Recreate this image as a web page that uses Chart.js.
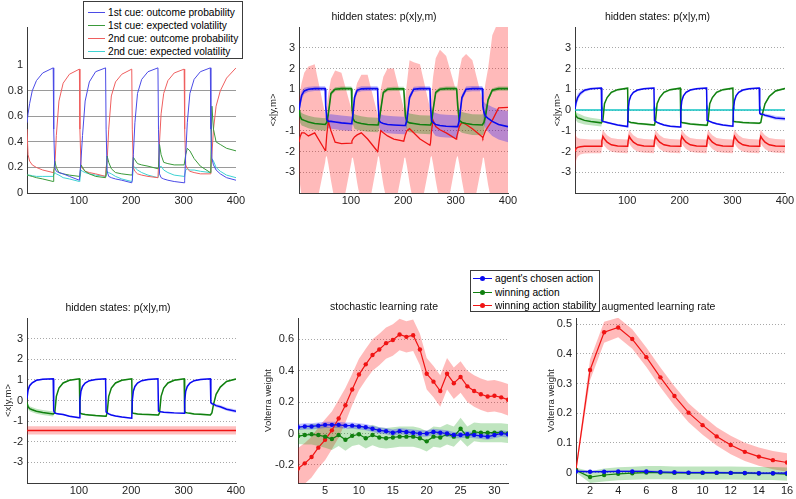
<!DOCTYPE html>
<html>
<head>
<meta charset="utf-8">
<title>hidden states</title>
<script src="https://cdn.jsdelivr.net/npm/chart.js@4.4.1/dist/chart.umd.min.js"></script>
<style>
  body { margin: 0; background: #fff; }
  #page { position: relative; width: 796px; height: 499px; overflow: hidden; background: #fff; }
  #page canvas { position: absolute; }
  .legend { position: absolute; background: #fff; border: 1px solid #3c3c3c; box-sizing: border-box;
            font: 10.2px "Liberation Sans", Arial, sans-serif; color: #000; }
  .lrow { position: relative; height: 13px; line-height: 13px; white-space: nowrap; padding-left: 24px; }
  #leg2 .lrow { height: 13.5px; line-height: 13.5px; }
  .ls { position: absolute; top: 6px; border-top: 1px solid; }
  .ls i { position: absolute; left: 50%; top: -3px; width: 5px; height: 5px; margin-left: -2.5px; border-radius: 50%; }
</style>
</head>
<body>
<div id="page">
  <canvas id="c1" width="260" height="215" style="left:0;top:0"></canvas>
  <canvas id="c2" width="270" height="215" style="left:260px;top:0"></canvas>
  <canvas id="c3" width="266" height="215" style="left:530px;top:0"></canvas>
  <canvas id="c4" width="260" height="207" style="left:0;top:292px"></canvas>
  <canvas id="c5" width="270" height="207" style="left:260px;top:292px"></canvas>
  <canvas id="c6" width="266" height="207" style="left:530px;top:292px"></canvas>
  <div class="legend" id="leg1" style="left:83px;top:1px;width:160px;height:58px;padding-top:4px"></div>
  <div class="legend" id="leg2" style="left:470px;top:270px;width:130px;height:42px;padding-top:1px"></div>
</div>
<script>
// ---- data -------------------------------------------------------------
// trial positions sampled along each 50-trial block (panels 1-4)
const trials = [1,3,6,11,19,31,51, 52,54,57,62,70,82,101, 102,104,107,112,120,132,151,
                152,154,157,162,170,182,201, 202,204,207,212,220,232,251, 252,254,257,262,270,282,301,
                302,304,307,312,320,332,351, 352,354,357,362,370,382,400];

// panel 1: cue probabilities / volatilities
const p1Prob1 = [0.55,0.62,0.70,0.80,0.88,0.94,0.98, 0.50,0.20,0.17,0.16,0.15,0.13,0.10,
                 0.10,0.25,0.45,0.72,0.87,0.95,0.98, 0.50,0.17,0.13,0.12,0.11,0.10,0.08,
                 0.10,0.30,0.55,0.78,0.89,0.95,0.98, 0.50,0.15,0.12,0.11,0.10,0.09,0.08,
                 0.10,0.30,0.55,0.78,0.89,0.95,0.98, 0.50,0.27,0.22,0.18,0.15,0.12,0.10];
const p1Vol1  = [0.14,0.14,0.135,0.13,0.12,0.11,0.09, 0.15,0.25,0.20,0.16,0.15,0.14,0.13,
                 0.14,0.22,0.20,0.17,0.15,0.13,0.12, 0.15,0.29,0.24,0.19,0.16,0.15,0.14,
                 0.15,0.28,0.26,0.23,0.22,0.21,0.19, 0.20,0.38,0.30,0.24,0.23,0.22,0.22,
                 0.22,0.30,0.35,0.33,0.27,0.21,0.16, 0.25,0.68,0.50,0.40,0.38,0.35,0.33];
const p1Prob2 = [0.50,0.30,0.25,0.22,0.20,0.18,0.16, 0.18,0.20,0.45,0.72,0.86,0.93,0.97,
                 0.50,0.22,0.19,0.17,0.16,0.15,0.13, 0.20,0.25,0.50,0.76,0.87,0.93,0.97,
                 0.50,0.20,0.17,0.15,0.14,0.13,0.12, 0.20,0.40,0.62,0.78,0.88,0.94,0.97,
                 0.50,0.22,0.19,0.17,0.16,0.15,0.15, 0.20,0.30,0.50,0.68,0.80,0.90,0.98];
const p1Vol2  = [0.14,0.14,0.14,0.135,0.13,0.13,0.13, 0.13,0.16,0.15,0.14,0.12,0.11,0.09,
                 0.10,0.18,0.17,0.16,0.15,0.14,0.13, 0.13,0.17,0.16,0.15,0.13,0.11,0.09,
                 0.10,0.21,0.20,0.18,0.16,0.14,0.12, 0.13,0.20,0.21,0.18,0.16,0.14,0.13,
                 0.14,0.18,0.19,0.18,0.18,0.17,0.16, 0.18,0.27,0.25,0.20,0.17,0.14,0.12];
const p1Labels = ['1st cue: outcome probability', '1st cue: expected volatility',
                  '2nd cue: outcome probability', '2nd cue: expected volatility'];

// panel 2: hidden states (noisy model)
const p2Blue = [0.0,0.3,0.7,0.92,1.0,1.03,1.03, 0.2,-0.45,-0.55,-0.55,-0.58,-0.62,-0.66,
                -0.6,-0.2,0.6,0.95,1.02,1.03,1.03, 0.3,-0.5,-0.6,-0.65,-0.7,-0.72,-0.75,
                -0.75,-0.75,-0.5,0.6,1.0,1.03,1.03, 0.2,-0.5,-0.6,-0.7,-0.75,-0.78,-0.8,
                -0.8,-0.8,-0.5,0.6,1.0,1.03,1.03, 0.2,-0.1,-0.3,-0.4,-0.55,-0.7,-0.8];
const p2BlueSd = [0.3,0.25,0.2,0.15,0.12,0.12,0.12, 0.2,0.3,0.33,0.35,0.35,0.35,0.35,
                  0.35,0.3,0.2,0.12,0.12,0.12,0.12, 0.2,0.35,0.4,0.4,0.42,0.42,0.42,
                  0.42,0.42,0.3,0.15,0.12,0.12,0.12, 0.2,0.45,0.5,0.55,0.55,0.55,0.55,
                  0.55,0.55,0.35,0.15,0.13,0.13,0.13, 0.2,0.5,0.6,0.65,0.7,0.72,0.75];
const p2Green = [0.1,-0.3,-0.45,-0.5,-0.58,-0.65,-0.7, -0.7,-0.6,-0.2,0.8,1.0,1.03,1.03,
                 0.2,-0.4,-0.55,-0.6,-0.65,-0.7,-0.72, -0.72,-0.5,0.0,0.85,1.0,1.02,1.02,
                 0.6,-0.3,-0.55,-0.62,-0.65,-0.7,-0.72, -0.72,-0.6,0.0,0.85,1.0,1.03,1.03,
                 1.0,0.2,-0.5,-0.6,-0.65,-0.7,-0.72, -0.72,-0.6,-0.3,0.5,0.95,1.03,1.03];
const p2GreenSd = [0.3,0.3,0.3,0.3,0.3,0.3,0.3, 0.3,0.3,0.2,0.1,0.1,0.1,0.1,
                   0.2,0.3,0.35,0.35,0.35,0.35,0.35, 0.35,0.35,0.2,0.1,0.1,0.1,0.1,
                   0.2,0.4,0.45,0.45,0.45,0.45,0.45, 0.45,0.45,0.2,0.1,0.1,0.1,0.1,
                   0.2,0.4,0.5,0.5,0.5,0.5,0.5, 0.5,0.5,0.3,0.12,0.1,0.1,0.1];
const p2Red = [-1.55,-1.3,-1.1,-1.1,-1.25,-1.1,-1.95, -1.9,-1.2,-0.55,-1.0,-1.55,-1.62,-1.6,
               -1.5,-1.4,-1.3,-1.2,-1.1,-1.4,-2.0, -1.9,-1.5,-1.0,-1.1,-1.25,-1.4,-1.5,
               -1.4,-1.2,-1.0,-0.9,-1.1,-1.4,-1.7, -1.6,-1.0,-0.5,-0.8,-0.95,-1.1,-1.4,
               -1.3,-1.1,-0.8,-0.6,-0.7,-0.9,-1.3, -1.35,-1.2,-1.0,-0.8,-0.5,0.1,0.13];
const p2RedHi = [0.5,0.9,1.3,1.8,2.1,2.2,-0.2, -0.3,0.2,0.8,1.5,1.9,1.8,0.05,
                 0.0,0.3,0.8,1.3,1.7,1.7,-0.2, -0.2,0.3,1.0,1.6,2.0,2.0,0.1,
                 0.1,0.6,1.3,2.4,2.3,2.2,0.1, 0.1,0.8,1.6,2.5,2.9,2.6,0.9,
                 0.85,1.3,1.9,2.5,2.7,2.4,0.5, 0.5,0.8,1.3,2.0,3.6,4.3,4.5];
const p2RedLo = [-3.0,-3.6,-4.2,-5,-5,-5,-2.5, -2.3,-2.2,-2.6,-3.4,-4.5,-5,-2.5,
                 -2.3,-2.3,-2.7,-3.5,-4.6,-5,-2.4, -2.2,-2.3,-2.8,-3.6,-4.6,-5,-2.5,
                 -2.3,-2.3,-2.7,-3.5,-4.6,-5,-2.5, -2.3,-2.2,-2.6,-3.4,-4.5,-5,-2.4,
                 -2.3,-2.2,-2.6,-3.4,-4.5,-5,-2.5, -2.3,-2.3,-2.8,-3.6,-4.6,-5,-5];

// panel 3: hidden states (second model)
const p3Blue = [0.05,0.35,0.6,0.8,0.95,1.02,1.06, -0.5,-0.55,-0.57,-0.6,-0.65,-0.72,-0.8,
                0.0,0.45,0.68,0.85,0.96,1.02,1.06, -0.5,-0.55,-0.6,-0.65,-0.72,-0.78,-0.82,
                0.0,0.45,0.68,0.85,0.96,1.02,1.06, -0.5,-0.52,-0.55,-0.6,-0.66,-0.72,-0.78,
                0.0,0.45,0.68,0.85,0.96,1.02,1.06, -0.15,-0.2,-0.2,-0.25,-0.3,-0.38,-0.42];
const p3BlueSd = [0.3,0.25,0.2,0.12,0.08,0.06,0.05, 0.05,0.05,0.05,0.05,0.05,0.05,0.05,
                  0.05,0.05,0.05,0.05,0.05,0.05,0.05, 0.05,0.05,0.05,0.05,0.05,0.05,0.05,
                  0.05,0.05,0.05,0.05,0.05,0.05,0.05, 0.05,0.05,0.05,0.05,0.05,0.05,0.05,
                  0.05,0.05,0.05,0.05,0.05,0.05,0.05, 0.08,0.08,0.08,0.08,0.09,0.1,0.1];
const p3Green = [-0.1,-0.3,-0.38,-0.42,-0.5,-0.55,-0.62, -0.62,-0.5,0.3,0.6,0.85,0.98,1.05,
                 -0.55,-0.57,-0.6,-0.62,-0.65,-0.68,-0.72, -0.72,-0.5,0.3,0.6,0.85,0.98,1.05,
                 -0.58,-0.6,-0.62,-0.64,-0.67,-0.7,-0.74, -0.74,-0.5,0.3,0.6,0.85,0.98,1.05,
                 -0.55,-0.56,-0.57,-0.58,-0.6,-0.62,-0.64, -0.64,-0.6,-0.2,0.3,0.65,0.92,1.04];
const p3GreenSd = [0.15,0.2,0.22,0.22,0.2,0.18,0.18, 0.05,0.05,0.05,0.05,0.05,0.05,0.05,
                   0.05,0.05,0.05,0.05,0.05,0.05,0.05, 0.05,0.05,0.05,0.05,0.05,0.05,0.05,
                   0.05,0.05,0.05,0.05,0.05,0.05,0.05, 0.05,0.05,0.05,0.05,0.05,0.05,0.05,
                   0.05,0.05,0.05,0.05,0.05,0.05,0.05, 0.05,0.05,0.05,0.05,0.05,0.05,0.05];
const p3Red = [-2.0,-1.85,-1.8,-1.77,-1.75,-1.75,-1.75, -1.5,-1.27,-1.4,-1.55,-1.68,-1.73,-1.75,
               -1.5,-1.27,-1.4,-1.55,-1.68,-1.73,-1.75, -1.5,-1.27,-1.4,-1.55,-1.68,-1.73,-1.75,
               -1.5,-1.27,-1.4,-1.55,-1.68,-1.73,-1.75, -1.5,-1.27,-1.4,-1.55,-1.68,-1.73,-1.75,
               -1.5,-1.27,-1.4,-1.55,-1.68,-1.73,-1.75, -1.5,-1.27,-1.4,-1.55,-1.68,-1.73,-1.75];
const p3RedSd = [1.0,0.6,0.45,0.38,0.35,0.33,0.33, 0.33,0.33,0.33,0.33,0.33,0.33,0.33,
                 0.33,0.33,0.33,0.33,0.33,0.33,0.33, 0.33,0.33,0.33,0.33,0.33,0.33,0.33,
                 0.33,0.33,0.33,0.33,0.33,0.33,0.33, 0.33,0.33,0.33,0.33,0.33,0.33,0.33,
                 0.33,0.33,0.33,0.33,0.33,0.33,0.33, 0.33,0.33,0.33,0.33,0.33,0.33,0.33];
const p3Cyan = [0,0,0,0,0,0,0, 0.15,0,0,0,0,0,0, 0.15,0,0,0,0,0,0, 0.15,0,0,0,0,0,0,
                0.15,0,0,0,0,0,0, 0.15,0,0,0,0,0,0, 0.15,0,0,0,0,0,0, 0.15,0,0,0,0,0,0];

// panel 4: hidden states (fixed volatility)
const p4Blue = [0.1,0.5,0.72,0.86,0.98,1.03,1.05, -0.5,-0.6,-0.63,-0.65,-0.68,-0.76,-0.84,
                0.0,0.45,0.68,0.85,0.96,1.02,1.05, -0.55,-0.6,-0.65,-0.7,-0.75,-0.8,-0.86,
                0.0,0.45,0.68,0.85,0.96,1.02,1.05, -0.5,-0.53,-0.55,-0.57,-0.58,-0.6,-0.62,
                0.0,0.45,0.68,0.85,0.96,1.02,1.05, -0.1,-0.15,-0.18,-0.25,-0.3,-0.42,-0.52];
const p4BlueSd = [0.2,0.12,0.08,0.05,0.04,0.04,0.04, 0.04,0.04,0.04,0.04,0.04,0.04,0.04,
                  0.04,0.04,0.04,0.04,0.04,0.04,0.04, 0.04,0.04,0.04,0.04,0.04,0.04,0.04,
                  0.04,0.04,0.04,0.04,0.04,0.04,0.04, 0.04,0.04,0.04,0.04,0.04,0.04,0.04,
                  0.04,0.04,0.04,0.04,0.04,0.04,0.04, 0.06,0.07,0.07,0.08,0.08,0.08,0.08];
const p4Green = [-0.1,-0.3,-0.4,-0.45,-0.52,-0.58,-0.65, -0.65,-0.6,0.2,0.6,0.85,0.98,1.05,
                 -0.6,-0.63,-0.65,-0.68,-0.7,-0.73,-0.76, -0.76,-0.6,0.2,0.6,0.85,0.98,1.05,
                 -0.6,-0.62,-0.63,-0.65,-0.67,-0.68,-0.7, -0.7,-0.6,0.2,0.6,0.85,0.98,1.05,
                 -0.55,-0.58,-0.6,-0.62,-0.65,-0.67,-0.7, -0.7,-0.6,-0.2,0.3,0.65,0.92,1.04];
const p4GreenSd = [0.1,0.12,0.12,0.12,0.12,0.12,0.12, 0.04,0.04,0.04,0.04,0.04,0.04,0.04,
                   0.04,0.04,0.04,0.04,0.04,0.04,0.04, 0.04,0.04,0.04,0.04,0.04,0.04,0.04,
                   0.04,0.04,0.04,0.04,0.04,0.04,0.04, 0.04,0.04,0.04,0.04,0.04,0.04,0.04,
                   0.04,0.04,0.04,0.04,0.04,0.04,0.04, 0.04,0.04,0.04,0.04,0.04,0.04,0.04];
const p4RedTrials = [1, 400];
const p4Red = [-1.45, -1.45];
const p4RedSd = [0.2, 0.2];

// panel 5: stochastic learning rate (Volterra kernels, lags 1..32)
const lags5 = [1,2,3,4,5,6,7,8,9,10,11,12,13,14,15,16,17,18,19,20,21,22,23,24,25,26,27,28,29,30,31,32];
const p5Agent = [0.04,0.045,0.045,0.05,0.055,0.055,0.055,0.05,0.05,0.045,0.04,0.03,0.02,0.015,0.005,0.015,
                 0.01,0.005,0.0,0.0,0.01,0.005,0.0,-0.01,-0.01,-0.005,-0.01,-0.015,-0.02,-0.01,0.0,-0.005];
const p5AgentSd = [0.02,0.02,0.02,0.02,0.02,0.02,0.02,0.02,0.02,0.02,0.02,0.02,0.02,0.02,0.02,0.02,
                   0.02,0.02,0.02,0.02,0.02,0.02,0.02,0.02,0.02,0.02,0.02,0.02,0.02,0.02,0.02,0.02];
const p5Win = [-0.017,-0.01,-0.005,-0.01,-0.02,-0.035,-0.01,-0.04,-0.015,-0.005,-0.03,-0.01,-0.025,-0.03,-0.025,-0.02,
               -0.02,-0.02,-0.03,-0.05,-0.02,-0.025,-0.005,-0.02,0.03,-0.02,0.01,0.005,0.005,0.005,0.005,0.0];
const p5WinSd = [0.05,0.06,0.065,0.07,0.07,0.07,0.07,0.07,0.065,0.065,0.065,0.065,0.065,0.065,0.065,0.065,
                 0.065,0.065,0.065,0.065,0.065,0.065,0.065,0.065,0.07,0.065,0.06,0.06,0.06,0.06,0.06,0.06];
const p5Stab = [-0.223,-0.19,-0.15,-0.09,-0.04,0.02,0.095,0.18,0.28,0.375,0.44,0.5,0.535,0.575,0.595,0.63,
                0.615,0.625,0.535,0.38,0.33,0.27,0.38,0.32,0.36,0.30,0.27,0.25,0.235,0.24,0.23,0.215];
const p5StabSd = [0.13,0.13,0.13,0.13,0.13,0.12,0.12,0.11,0.1,0.1,0.1,0.1,0.1,0.1,0.1,0.1,
                  0.1,0.1,0.1,0.1,0.1,0.1,0.1,0.1,0.1,0.1,0.1,0.1,0.1,0.1,0.1,0.1];
const p5Labels = ["agent's chosen action", 'winning action', 'winning action stability'];

// panel 6: augmented learning rate (lags 1..16)
const lags6 = [1,2,3,4,5,6,7,8,9,10,11,12,13,14,15,16];
const p6Agent = [0.004,0.003,0.003,0.004,0.004,0.004,0.002,0.001,0.0,0.0,0.0,-0.001,-0.001,-0.002,-0.002,-0.002];
const p6AgentSd = [0.004,0.004,0.004,0.004,0.004,0.004,0.004,0.004,0.004,0.004,0.004,0.004,0.004,0.004,0.004,0.004];
const p6Win = [0.008,-0.015,-0.008,-0.004,-0.002,0.0,0.0,-0.001,-0.001,-0.001,-0.001,-0.001,-0.002,-0.003,-0.003,-0.005];
const p6WinSd = [0.008,0.02,0.022,0.022,0.022,0.022,0.022,0.022,0.022,0.022,0.022,0.022,0.022,0.022,0.022,0.022];
const p6Stab = [0.01,0.346,0.473,0.489,0.45,0.389,0.321,0.258,0.202,0.16,0.122,0.093,0.07,0.054,0.042,0.034];
const p6StabSd = [0.01,0.035,0.035,0.033,0.033,0.033,0.033,0.033,0.032,0.032,0.031,0.031,0.031,0.031,0.031,0.031];

// tick labels
const trialTicks = [100, 200, 300, 400];
const p1YTicks = [0, 0.2, 0.4, 0.6, 0.8, 1];
const stateTicks = [-3, -2, -1, 0, 1, 2, 3];
const p5XTicks = [5, 10, 15, 20, 25, 30];
const p5YTicks = [-0.2, 0, 0.2, 0.4, 0.6];
const p6XTicks = [2, 4, 6, 8, 10, 12, 14, 16];
const p6YTicks = [0, 0.1, 0.2, 0.3, 0.4, 0.5];

// ---- styling ------------------------------------------------------------
const thin = {blue: '#4b4be6', green: '#3a9a3a', red: '#ef5f5f', cyan: '#3fd3d3'};
const col = {blue: '#0a0af0', green: '#10800f', red: '#f01414', cyan: '#10c4c4'};

Chart.defaults.font.family = '"Liberation Sans", Arial, sans-serif';
Chart.defaults.font.size = 11;
Chart.defaults.color = '#1e1e1e';
Chart.defaults.animation = false;
Chart.defaults.events = [];
Chart.defaults.plugins.legend.display = false;
Chart.defaults.plugins.tooltip.enabled = false;
Chart.defaults.elements.line.tension = 0;
Chart.defaults.elements.point.radius = 0;

const pts = (xs, ys) => xs.map((x, i) => ({x: x, y: ys[i]}));

function line(xs, ys, color, width) {
    return {data: pts(xs, ys), borderColor: color, borderWidth: width, pointRadius: 0, fill: false, order: 0};
}

function marked(xs, ys, color) {
    return {data: pts(xs, ys), borderColor: color, borderWidth: 1.2, pointRadius: 2.2,
            pointBackgroundColor: color, pointBorderWidth: 0, fill: false, order: 0};
}

function area(xs, lo, hi, color, order) {
    return [
        {data: pts(xs, lo), borderColor: 'rgba(0,0,0,0)', borderWidth: 0, pointRadius: 0, fill: false, order: order},
        {data: pts(xs, hi), borderColor: 'rgba(0,0,0,0)', borderWidth: 0, pointRadius: 0, fill: '-1', backgroundColor: color, order: order}
    ];
}

function sdBand(xs, mid, sd, color, order) {
    return area(xs, mid.map((m, i) => m - sd[i]), mid.map((m, i) => m + sd[i]), color, order);
}

function xAxis(min, max, ticks, h) {
    return {
        type: 'linear', min: min, max: max,
        afterBuildTicks: s => { s.ticks = ticks.map(v => ({value: v})); },
        afterFit: s => { s.height = h; },
        ticks: {padding: 1, maxRotation: 0, autoSkip: false, callback: v => String(v)},
        grid: {display: false, drawTicks: false},
        border: {display: true, color: '#3a3a3a'}
    };
}

function yAxis(min, max, ticks, w, label, tp, gridColor, dash) {
    return {
        type: 'linear', min: min, max: max,
        afterBuildTicks: s => { s.ticks = ticks.map(v => ({value: v})); },
        afterFit: s => { s.width = w; },
        ticks: {padding: 4, callback: v => String(v)},
        grid: {color: gridColor || '#a8a8a8', lineWidth: 1, drawTicks: false},
        border: {display: true, color: '#3a3a3a', dash: dash || [1, 2]},
        title: {display: !!label, text: label || '', font: {size: 9.5}, padding: {top: tp || 0, bottom: 0}}
    };
}

function titleOpt(text, top, bottom) {
    return {display: true, text: text, color: '#111', font: {size: 10.5, weight: 'normal'},
            padding: {top: top, bottom: bottom}};
}

function draw(id, datasets, scales, title, padTop, padRight) {
    new Chart(document.getElementById(id), {
        type: 'line',
        data: {datasets: datasets},
        options: {
            responsive: false,
            layout: {padding: {top: padTop, right: padRight, bottom: 0, left: 0}},
            scales: scales,
            plugins: {title: title || {display: false}}
        }
    });
}

// ---- panel 1 ------------------------------------------------------------
draw('c1', [
    line(trials, p1Prob1, thin.blue, 1),
    line(trials, p1Vol1, thin.green, 1),
    line(trials, p1Prob2, thin.red, 1),
    line(trials, p1Vol2, thin.cyan, 1)
], {
    x: xAxis(1, 400, trialTicks, 22),
    y: yAxis(0, 1.3, p1YTicks, 27, '', 0,
        c => (c.tick && c.tick.value > 0.1 && c.tick.value < 0.9) ? '#9a9a9a' : 'rgba(0,0,0,0)', [])
}, null, 27, 24);

// ---- panel 2 ------------------------------------------------------------
draw('c2', [
    line(trials, p2Blue, col.blue, 1.6),
    line(trials, p2Green, col.green, 1.6),
    line(trials, p2Red, col.red, 1.3),
    ...sdBand(trials, p2Blue, p2BlueSd, 'rgba(0,0,255,0.28)', 2),
    ...sdBand(trials, p2Green, p2GreenSd, 'rgba(0,128,0,0.3)', 2),
    ...area(trials, p2RedLo, p2RedHi, 'rgba(255,0,0,0.27)', 3)
], {
    x: xAxis(1, 400, trialTicks, 22),
    y: yAxis(-4, 4, stateTicks, 39, '<x|y,m>', 8)
}, titleOpt('hidden states: p(x|y,m)', 11, 3.4), 0, 22);

// ---- panel 3 ------------------------------------------------------------
draw('c3', [
    line(trials, p3Blue, col.blue, 1.5),
    line(trials, p3Green, col.green, 1.5),
    line(trials, p3Red, col.red, 1.5),
    line(trials, p3Cyan, col.cyan, 1.5),
    ...sdBand(trials, p3Blue, p3BlueSd, 'rgba(0,0,255,0.2)', 2),
    ...sdBand(trials, p3Green, p3GreenSd, 'rgba(0,150,0,0.25)', 2),
    ...sdBand(trials, p3Red, p3RedSd, 'rgba(255,0,0,0.25)', 2)
], {
    x: xAxis(1, 400, trialTicks, 22),
    y: yAxis(-4, 4, stateTicks, 45, '<x|y,m>', 22)
}, titleOpt('hidden states: p(x|y,m)', 11, 3.4), 0, 11);

// ---- panel 4 ------------------------------------------------------------
draw('c4', [
    line(trials, p4Blue, col.blue, 1.5),
    line(trials, p4Green, col.green, 1.5),
    line(p4RedTrials, p4Red, col.red, 1.5),
    ...sdBand(trials, p4Blue, p4BlueSd, 'rgba(0,0,255,0.2)', 2),
    ...sdBand(trials, p4Green, p4GreenSd, 'rgba(0,150,0,0.25)', 2),
    ...sdBand(p4RedTrials, p4Red, p4RedSd, 'rgba(255,0,0,0.25)', 2)
], {
    x: xAxis(1, 400, trialTicks, 16),
    y: yAxis(-4, 4, stateTicks, 27, '<x|y,m>', 3)
}, titleOpt('hidden states: p(x|y,m)', 10, 3.4), 0, 24);

// ---- panel 5 ------------------------------------------------------------
draw('c5', [
    marked(lags5, p5Agent, col.blue),
    marked(lags5, p5Win, col.green),
    marked(lags5, p5Stab, col.red),
    ...sdBand(lags5, p5Agent, p5AgentSd, 'rgba(0,0,255,0.25)', 2),
    ...sdBand(lags5, p5Win, p5WinSd, 'rgba(0,150,0,0.25)', 2),
    ...sdBand(lags5, p5Stab, p5StabSd, 'rgba(255,0,0,0.27)', 2)
], {
    x: xAxis(1, 32, p5XTicks, 16),
    y: yAxis(-0.315, 0.735, p5YTicks, 38, 'Volterra weight', 3)
}, titleOpt('stochastic learning rate', 9, 4.4), 0, 22);

// ---- panel 6 ------------------------------------------------------------
draw('c6', [
    marked(lags6, p6Agent, col.blue),
    marked(lags6, p6Win, col.green),
    marked(lags6, p6Stab, col.red),
    ...sdBand(lags6, p6Agent, p6AgentSd, 'rgba(0,0,255,0.25)', 2),
    ...sdBand(lags6, p6Win, p6WinSd, 'rgba(0,150,0,0.25)', 2),
    ...sdBand(lags6, p6Stab, p6StabSd, 'rgba(255,0,0,0.27)', 2)
], {
    x: xAxis(1, 16, p6XTicks, 16),
    y: yAxis(-0.035, 0.521, p6YTicks, 46, 'Volterra weight', 16)
}, titleOpt('augmented learning rate', 9, 4.4), 0, 9);

// ---- legends ------------------------------------------------------------
function legend(id, labels, colors, left, width, dots) {
    const box = document.getElementById(id);
    labels.forEach((t, i) => {
        const row = document.createElement('div');
        row.className = 'lrow';
        const s = document.createElement('span');
        s.className = 'ls';
        s.style.left = left + 'px';
        s.style.width = width + 'px';
        s.style.borderColor = colors[i];
        if (dots) {
            const d = document.createElement('i');
            d.style.background = colors[i];
            s.appendChild(d);
        }
        row.appendChild(s);
        row.appendChild(document.createTextNode(t));
        box.appendChild(row);
    });
}

legend('leg1', p1Labels, [thin.blue, thin.green, thin.red, thin.cyan], 4, 17, false);
legend('leg2', p5Labels, [col.blue, col.green, col.red], 2, 19, true);
</script>
</body>
</html>
